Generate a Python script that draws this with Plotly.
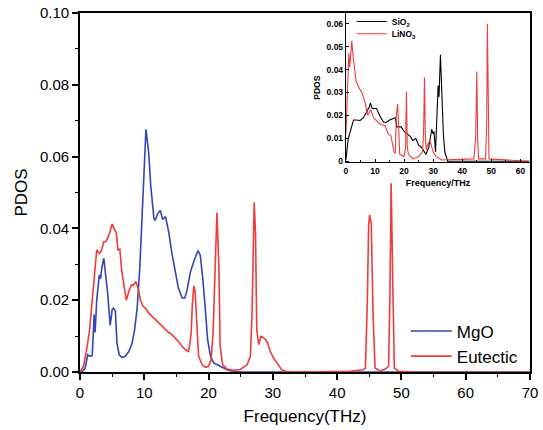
import plotly.graph_objects as go

# ---- Main panel data (THz, PDOS) ----
mgo_freq = [0.0, 0.3, 0.8, 1.2, 1.5, 1.9, 2.2, 2.35, 2.6, 3.0, 3.2, 3.4, 3.7, 3.9, 4.3, 4.7, 5.0, 5.2, 5.5,
            5.75, 6.1, 6.5, 7.0, 7.6, 8.1, 8.5, 8.9, 9.3, 9.6, 9.8, 10.0, 10.26, 10.5, 10.7, 11.0, 11.2, 11.5,
            11.7, 12.1, 12.5, 12.85, 13.3, 13.8, 14.3, 14.8, 15.3, 15.9, 16.3, 16.6, 17.2, 17.7, 18.35, 18.7,
            19.1, 19.5, 19.85, 20.3, 20.8, 21.8, 22.9, 23.9, 25.0, 70.0]
mgo_pdos = [0.0, 0.0, 0.0011, 0.0048, 0.0044, 0.0045, 0.016, 0.011, 0.020, 0.027, 0.026, 0.029, 0.0317, 0.029,
            0.022, 0.013, 0.0173, 0.0178, 0.017, 0.008, 0.0048, 0.0041, 0.0043, 0.0057, 0.008, 0.0118, 0.018,
            0.029, 0.0405, 0.048, 0.060, 0.0676, 0.064, 0.0607, 0.052, 0.048, 0.0428, 0.0422, 0.0442, 0.045,
            0.0425, 0.0433, 0.039, 0.033, 0.028, 0.0234, 0.0206, 0.0206, 0.0224, 0.028, 0.0308, 0.0338, 0.0326,
            0.026, 0.0173, 0.009, 0.0044, 0.0025, 0.0016, 0.0006, 0.0001, 0.0, 0.0]

eut_freq = [0.0, 0.55, 1.1, 1.5, 1.9, 2.3, 2.6, 3.0, 3.3, 3.7, 4.0, 4.3, 4.6, 5.0, 5.3, 5.65, 5.9, 6.2, 6.5,
            6.9, 7.2, 7.6, 8.0, 8.3, 8.7, 9.1, 9.4, 9.8, 10.2, 10.7, 11.2, 11.7, 12.2, 12.75, 13.3, 13.8, 14.3,
            14.8, 15.3, 15.9, 16.4, 16.9, 17.3, 17.45, 17.7, 17.9, 18.2, 18.45, 19.0, 19.5, 20.0, 20.4, 20.7,
            21.0, 21.3, 21.6, 21.8, 22.2, 22.9, 23.9, 24.9, 26.0, 26.5, 26.75, 27.0, 27.1, 27.3, 27.5, 27.8,
            28.15, 28.6, 28.9, 29.2, 29.6, 30.1, 30.6, 31.4, 32.2, 34.0, 42.0, 44.0, 44.4, 44.7, 44.9, 45.05,
            45.3, 45.6, 45.9, 46.7, 47.5, 48.0, 48.2, 48.4, 48.7, 48.9, 49.6, 52.0, 70.0]
eut_pdos = [0.0, 0.0016, 0.007, 0.0118, 0.020, 0.028, 0.034, 0.033, 0.0336, 0.0363, 0.0363, 0.0373, 0.0387,
            0.0412, 0.0398, 0.0387, 0.034, 0.0342, 0.028, 0.0229, 0.020, 0.0224, 0.0243, 0.0241, 0.0252, 0.0229,
            0.020, 0.0183, 0.0178, 0.0164, 0.0155, 0.0146, 0.0138, 0.0127, 0.0118, 0.011, 0.0104, 0.0095,
            0.0085, 0.0071, 0.0062, 0.0057, 0.0108, 0.018, 0.024, 0.0225, 0.0127, 0.0044, 0.002, 0.0013, 0.0016,
            0.0034, 0.0108, 0.0294, 0.0444, 0.0294, 0.0071, 0.002, 0.0008, 0.0005, 0.0007, 0.002, 0.0044,
            0.0155, 0.0433, 0.0473, 0.0387, 0.0118, 0.0076, 0.0099, 0.0095, 0.009, 0.008, 0.0057, 0.0039,
            0.0025, 0.0006, 0.0001, 0.0, 0.0002, 0.0006, 0.0011, 0.020, 0.041, 0.0437, 0.0414, 0.0155, 0.0011,
            0.0003, 0.0008, 0.0016, 0.020, 0.0526, 0.020, 0.0011, 0.0002, 0.0, 0.0]

# ---- Inset data ----
sio2_freq = [0.0, 0.3, 0.8, 1.5, 2.6, 3.5, 4.9, 6.0, 7.0, 8.0, 8.4, 9.0, 10.5, 12.0, 13.0, 14.0, 15.0, 16.0,
             17.0, 17.5, 19.0, 20.0, 22.0, 23.0, 24.0, 25.0, 26.0, 27.5, 28.5, 29.5, 29.9, 30.3, 30.8, 31.7,
             32.0, 32.5, 33.0, 33.5, 34.0, 35.0, 63.0]
sio2_pdos = [0.0007, 0.004, 0.010, 0.013, 0.018, 0.018, 0.0178, 0.019, 0.021, 0.0235, 0.0254, 0.023, 0.023,
             0.0189, 0.017, 0.017, 0.018, 0.0185, 0.019, 0.015, 0.015, 0.013, 0.011, 0.009, 0.010, 0.007, 0.006,
             0.003, 0.006, 0.014, 0.012, 0.013, 0.004, 0.033, 0.028, 0.0465, 0.025, 0.012, 0.004, 0.0, 0.0]

lino3_freq = [0.0, 0.5, 1.0, 1.3, 2.0, 2.5, 3.5, 4.5, 5.5, 6.5, 7.5, 8.5, 9.5, 11.0, 12.0, 13.5, 14.5, 15.5,
              16.5, 17.0, 17.3, 17.8, 18.5, 20.0, 20.5, 20.8, 21.1, 21.5, 23.0, 25.0, 26.3, 26.7, 27.0, 27.3,
              27.6, 28.3, 29.0, 30.0, 31.0, 33.0, 44.0, 44.6, 45.0, 45.3, 45.6, 48.0, 48.4, 48.65, 48.9, 49.2,
              63.0]
lino3_pdos = [0.012, 0.030, 0.0472, 0.041, 0.0526, 0.045, 0.035, 0.032, 0.030, 0.026, 0.020, 0.0225, 0.019,
              0.017, 0.016, 0.0155, 0.012, 0.011, 0.004, 0.0035, 0.020, 0.025, 0.003, 0.002, 0.006, 0.0302,
              0.006, 0.003, 0.001, 0.002, 0.004, 0.012, 0.0365, 0.012, 0.005, 0.008, 0.0085, 0.004, 0.002, 0.0005,
              0.001, 0.010, 0.0392, 0.010, 0.001, 0.001, 0.015, 0.060, 0.015, 0.001, 0.0]

main_xticks = [0, 10, 20, 30, 40, 50, 60, 70]
main_yticks = [0.00, 0.02, 0.04, 0.06, 0.08, 0.10]
inset_xticks = [0, 10, 20, 30, 40, 50, 60]
inset_yticks = [0, 0.01, 0.02, 0.03, 0.04, 0.05, 0.06]
inset_yticktext = ["0", "0.01", "0.02", "0.03", "0.04", "0.05", "0.06"]

BLUE = "#3545B5"
RED = "#EE3B3B"
FONT = "Liberation Sans, Arial, sans-serif"

fig = go.Figure()
fig.add_trace(go.Scatter(x=mgo_freq, y=mgo_pdos, mode="lines", name="MgO",
                         line=dict(color=BLUE, width=1.6), xaxis="x", yaxis="y", legend="legend"))
fig.add_trace(go.Scatter(x=eut_freq, y=eut_pdos, mode="lines", name="Eutectic",
                         line=dict(color=RED, width=1.6), xaxis="x", yaxis="y", legend="legend"))
fig.add_trace(go.Scatter(x=sio2_freq, y=sio2_pdos, mode="lines", name="SiO<sub>2</sub>",
                         line=dict(color="black", width=1.1), xaxis="x2", yaxis="y2", legend="legend2"))
fig.add_trace(go.Scatter(x=lino3_freq, y=lino3_pdos, mode="lines", name="LiNO<sub>3</sub>",
                         line=dict(color=RED, width=1.1), xaxis="x2", yaxis="y2", legend="legend3"))

axis_common = dict(showgrid=False, zeroline=False, showline=True, linecolor="black", mirror=True,
                   tickcolor="black")

small_legend = dict(xanchor="left", yanchor="top", bgcolor="rgba(0,0,0,0)",
                    font=dict(size=8.5, family=FONT, weight="bold"), itemwidth=30, tracegroupgap=0)

fig.update_layout(
    width=543, height=430,
    margin=dict(l=80, r=13, t=13, b=58, autoexpand=False),
    paper_bgcolor="white", plot_bgcolor="white",
    font=dict(family=FONT, color="black"),
    xaxis=dict(**axis_common, ticks="outside", domain=[0, 1], range=[0, 70], tickvals=main_xticks,
               linewidth=1.8, ticklen=6, tickwidth=1.5, tickfont=dict(size=15),
               minor=dict(ticks="outside", ticklen=3.5, tickwidth=1.2, dtick=5, tickcolor="black"),
               title=dict(text="Frequency(THz)", font=dict(size=17), standoff=10), anchor="y"),
    yaxis=dict(**axis_common, ticks="outside", domain=[0, 1], range=[0, 0.1], tickvals=main_yticks,
               tickformat=".2f", linewidth=1.8, ticklen=6, tickwidth=1.5, tickfont=dict(size=15),
               minor=dict(ticks="outside", ticklen=3.5, tickwidth=1.2, dtick=0.01, tickcolor="black"),
               title=dict(text="PDOS", font=dict(size=17), standoff=8), anchor="x"),
    xaxis2=dict(**axis_common, ticks="inside", domain=[0.591, 1], range=[0, 63.3], tickvals=inset_xticks,
                linewidth=1.3, ticklen=3, tickwidth=1, tickfont=dict(size=8.5, weight="bold"),
                minor=dict(ticks="inside", ticklen=2, tickwidth=0.8, dtick=5, tickcolor="black"),
                title=dict(text="Frequency/THz", font=dict(size=9, weight="bold"), standoff=5), anchor="y2"),
    yaxis2=dict(**axis_common, ticks="inside", domain=[0.584, 1], range=[-0.0005, 0.0647],
                tickvals=inset_yticks, ticktext=inset_yticktext, linewidth=1.3, ticklen=3, tickwidth=1,
                tickfont=dict(size=8.5, weight="bold"),
                title=dict(text="PDOS", font=dict(size=8.5, weight="bold"), standoff=4), anchor="x2"),
    legend=dict(x=0.724, y=0.163, xanchor="left", yanchor="top", bgcolor="rgba(0,0,0,0)",
                font=dict(size=17, family=FONT), itemwidth=41, tracegroupgap=0),
    legend2=dict(x=0.604, y=1.0167, **small_legend),
    legend3=dict(x=0.604, y=0.9825, **small_legend),
    showlegend=True,
)

fig.write_html("out.html", config={"displayModeBar": False},
               post_script="document.body.style.margin='0px';document.body.style.padding='0px';")
